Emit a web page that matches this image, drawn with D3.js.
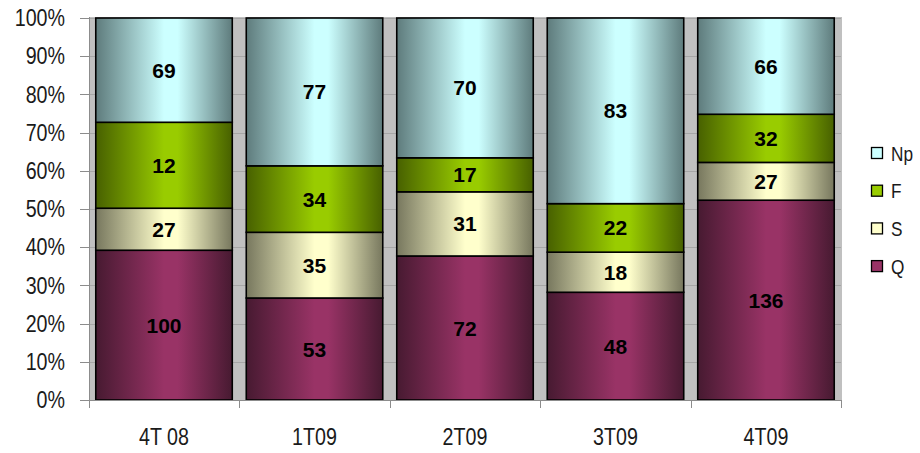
<!DOCTYPE html>
<html>
<head>
<meta charset="utf-8">
<title>stacked 100%</title>
<script src="https://cdn.jsdelivr.net/npm/d3@7/dist/d3.min.js"></script>
<style>
  body { margin: 0; background: #fff; }
  svg { display: block; }
  .narrow { font-family: "Liberation Sans", Arial, sans-serif; }
  .axis path, .axis line { stroke: #8c8c8c; shape-rendering: crispEdges; }
  .axis text { font-size: 24px; fill: #1a1a1a; }
  .val { font-family: "Liberation Sans", Arial, sans-serif; font-weight: bold; font-size: 21px; fill: #000; }
</style>
</head>
<body>
<script>
// categories and series (bottom to top)
var categories = ["4T 08", "1T09", "2T09", "3T09", "4T09"];
var series = ["Q", "S", "F", "Np"];

// share of each segment in the bar (%)
var shareQ  = [39.2, 26.7, 37.7, 28.2, 52.3];
var shareS  = [11.0, 17.2, 16.8, 10.5,  9.9];
var shareF  = [22.5, 17.4,  8.9, 12.7, 12.6];
var shareNp = [27.3, 38.7, 36.6, 48.6, 25.2];

// numbers printed inside the segments
var labelQ  = [100, 53, 72, 48, 136];
var labelS  = [27, 35, 31, 18, 27];
var labelF  = [12, 34, 17, 22, 32];
var labelNp = [69, 77, 70, 83, 66];

var yTicks = [0, 10, 20, 30, 40, 50, 60, 70, 80, 90, 100];

var colors = {
    Q:  { light: "#993366", dark: "#471a31" },
    S:  { light: "#ffffcc", dark: "#77775e" },
    F:  { light: "#99cc00", dark: "#476000" },
    Np: { light: "#ccffff", dark: "#5e7b7c" }
};

var shares = { Q: shareQ, S: shareS, F: shareF, Np: shareNp };
var labels = { Q: labelQ, S: labelS, F: labelF, Np: labelNp };

var w = 920, h = 453;
var pLeft = 89, pRight = 841, pTop = 18, pBottom = 400;
var squeeze = 0.82; // narrow look of the axis font

var rows = categories.map(function(c, i) {
    var r = { cat: c };
    series.forEach(function(s) { r[s] = shares[s][i]; });
    return r;
});
var stacked = d3.stack().keys(series)(rows);

var x = d3.scaleBand()
    .domain(categories)
    .range([pLeft, pRight])
    .paddingInner(0.093)
    .paddingOuter(0.045);

var y = d3.scaleLinear()
    .domain([0, 100])
    .range([pBottom, pTop]);

var svg = d3.select("body").append("svg")
    .attr("width", w)
    .attr("height", h);

// gradients
var defs = svg.append("defs");
series.forEach(function(s) {
    var g = defs.append("linearGradient")
        .attr("id", "grad-" + s)
        .attr("x1", "0%").attr("x2", "100%")
        .attr("y1", "0%").attr("y2", "0%");
    g.append("stop").attr("offset", "0%").attr("stop-color", colors[s].dark);
    g.append("stop").attr("offset", "50%").attr("stop-color", colors[s].light);
    g.append("stop").attr("offset", "60%").attr("stop-color", colors[s].light);
    g.append("stop").attr("offset", "100%").attr("stop-color", colors[s].dark);
});

// plot area
svg.append("rect")
    .attr("x", pLeft)
    .attr("y", pTop - 1)
    .attr("width", pRight - pLeft + 1)
    .attr("height", pBottom - pTop + 1)
    .attr("fill", "#c0c0c0");

// gridlines
svg.append("g")
    .selectAll("line")
    .data(yTicks.slice(1))
    .enter()
    .append("line")
    .attr("x1", pLeft)
    .attr("x2", pRight)
    .attr("y1", function(d) { return Math.round(y(d)) + 0.5; })
    .attr("y2", function(d) { return Math.round(y(d)) + 0.5; })
    .attr("stroke", "#a6a6a6");

// bars
var layers = svg.append("g")
    .selectAll("g")
    .data(stacked)
    .enter()
    .append("g")
    .attr("fill", function(d) { return "url(#grad-" + d.key + ")"; });

layers.selectAll("rect")
    .data(function(d) { return d; })
    .enter()
    .append("rect")
    .attr("x", function(d) { return x(d.data.cat); })
    .attr("y", function(d) { return y(d[1]); })
    .attr("width", x.bandwidth())
    .attr("height", function(d) { return y(d[0]) - y(d[1]); })
    .attr("stroke", "#000")
    .attr("stroke-width", 1.6);

// value labels
layers.each(function(layer) {
    d3.select(this).selectAll("text")
        .data(layer)
        .enter()
        .append("text")
        .attr("class", "val")
        .attr("text-anchor", "middle")
        .attr("dy", "0.36em")
        .attr("x", function(d) { return x(d.data.cat) + x.bandwidth() / 2; })
        .attr("y", function(d) { return (y(d[0]) + y(d[1])) / 2; })
        .text(function(d, i) { return labels[layer.key][i]; });
});

// y axis
var yAxis = d3.axisLeft(y)
    .tickValues(yTicks)
    .tickSize(9)
    .tickPadding(15)
    .tickFormat(function(d) { return d + "%"; });

var yg = svg.append("g")
    .attr("class", "axis narrow")
    .attr("transform", "translate(" + pLeft + ",0)")
    .call(yAxis);
yg.select(".domain").attr("d", "M0.5," + (pTop - 1) + "V" + pBottom);
yg.selectAll(".tick text")
    .attr("x", -24 / squeeze)
    .attr("transform", "scale(" + squeeze + ",1)");

// x axis: ticks between categories, labels centered
var xg = svg.append("g").attr("class", "axis narrow");
xg.append("line")
    .attr("x1", pLeft).attr("x2", pRight + 1)
    .attr("y1", pBottom + 0.5).attr("y2", pBottom + 0.5);
var bounds = categories.map(function(c) { return x(c) - x.step() * x.paddingInner() / 2; });
bounds.push(pRight);
xg.selectAll(".tk")
    .data(bounds)
    .enter()
    .append("line")
    .attr("class", "tk")
    .attr("x1", function(d) { return Math.round(d) + 0.5; })
    .attr("x2", function(d) { return Math.round(d) + 0.5; })
    .attr("y1", pBottom)
    .attr("y2", pBottom + 8);
xg.selectAll("text")
    .data(categories)
    .enter()
    .append("text")
    .attr("text-anchor", "middle")
    .attr("transform", "scale(" + squeeze + ",1)")
    .attr("x", function(d) { return (x(d) + x.bandwidth() / 2) / squeeze; })
    .attr("y", 445)
    .text(function(d) { return d; });

// legend (top entry is the top series)
var legend = svg.append("g")
    .attr("class", "narrow")
    .attr("transform", "translate(871,153)");
var items = legend.selectAll("g")
    .data(series.slice().reverse())
    .enter()
    .append("g")
    .attr("transform", function(d, i) { return "translate(0," + (i * 37.7) + ")"; });
items.append("rect")
    .attr("x", 0.5).attr("y", -5.5)
    .attr("width", 11).attr("height", 11)
    .attr("fill", function(d) { return colors[d].light; })
    .attr("stroke", "#000")
    .attr("stroke-width", 1.3);
items.append("text")
    .attr("transform", "scale(" + squeeze + ",1)")
    .attr("x", 20 / squeeze)
    .attr("dy", "0.36em")
    .attr("font-size", 21)
    .attr("fill", "#1a1a1a")
    .text(function(d) { return d; });
</script>
</body>
</html>
